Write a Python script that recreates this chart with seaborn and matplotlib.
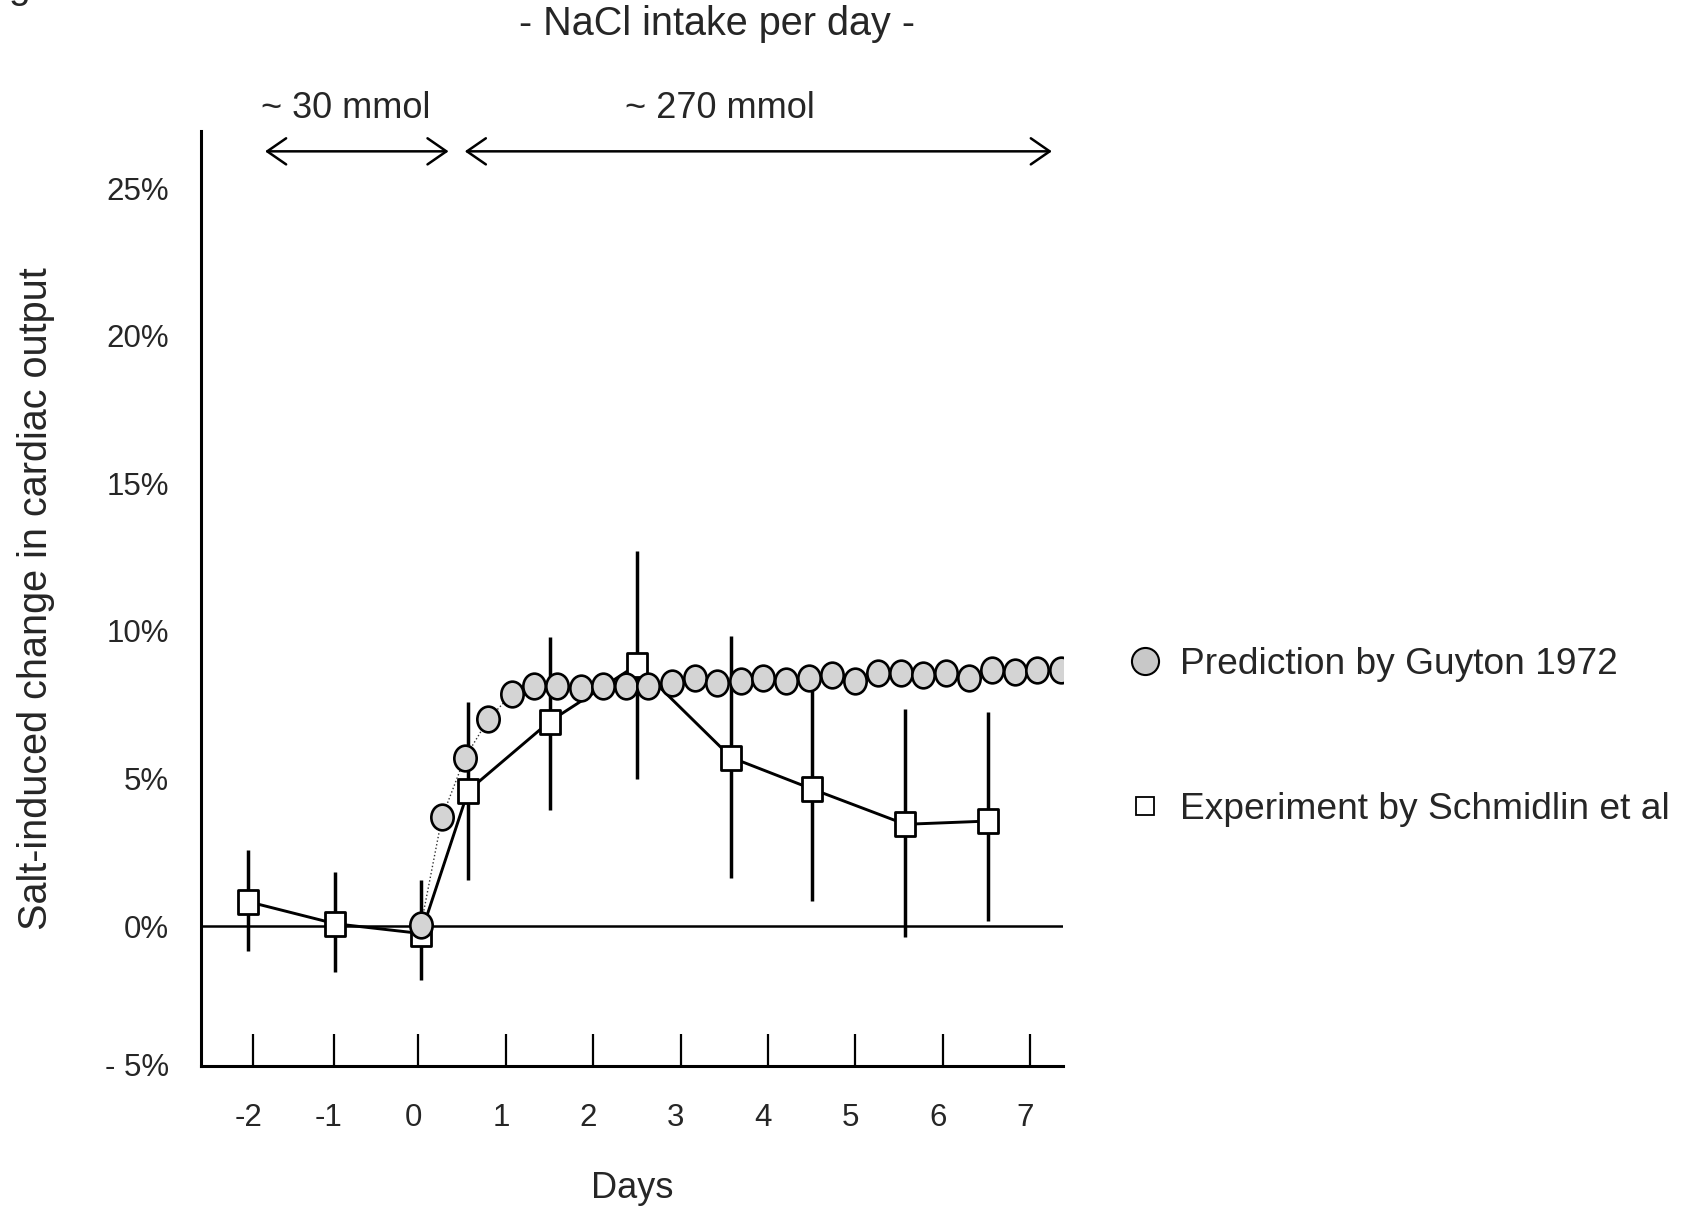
import matplotlib
matplotlib.use("Agg")
import matplotlib.pyplot as plt
from matplotlib.path import Path
from matplotlib.markers import MarkerStyle
from matplotlib.lines import Line2D
from matplotlib.transforms import ScaledTranslation
import seaborn as sns

# Experiment by Schmidlin et al (squares, mean with vertical error bars)
exp_days = [-1.95, -0.95, 0.03, 0.57, 1.50, 2.50, 3.58, 4.50, 5.57, 6.52]
exp_change = [0.83, 0.08, -0.25, 4.59, 6.93, 8.85, 5.71, 4.65, 3.45, 3.56]
exp_err_top = [2.59, 1.83, 1.57, 7.61, 9.78, 12.70, 9.82, 8.50, 7.35, 7.27]
exp_err_bottom = [-0.84, -1.56, -1.82, 1.57, 3.92, 4.99, 1.64, 0.84, -0.36, 0.18]

# Prediction by Guyton 1972 (circles)
pred_days = [0.03, 0.27, 0.53, 0.80, 1.07, 1.32, 1.59, 1.86, 2.11, 2.37,
             2.63, 2.90, 3.16, 3.42, 3.69, 3.94, 4.20, 4.47, 4.73, 4.99,
             5.26, 5.52, 5.77, 6.03, 6.30, 6.56, 6.82, 7.08, 7.35]
pred_change = [0.04, 3.69, 5.69, 7.01, 7.87, 8.14, 8.14, 8.06, 8.14, 8.14,
               8.14, 8.23, 8.42, 8.23, 8.29, 8.42, 8.31, 8.42, 8.51, 8.31,
               8.59, 8.59, 8.51, 8.59, 8.40, 8.68, 8.62, 8.68, 8.69]

# axis ticks
xtick_pos = [-1.89, -0.97, 0, 1, 2, 3, 4, 5, 6, 7]
xtick_labels = ['-2', '-1', '0', '1', '2', '3', '4', '5', '6', '7']
ytick_pos = [-4.7, 0, 5, 10, 15, 20, 25]
ytick_labels = ['- 5%', '0%', '5%', '10%', '15%', '20%', '25%']
ytick_marks = [5, 10, 15, 20, 25]

# salt intake periods
periods = ['~ 30 mmol', '~ 270 mmol']
period_start = [-1.755, 0.53]
period_end = [0.345, 7.247]
period_label_x = [-0.83, 3.45]

sns.set_style("white")
plt.rcParams['font.family'] = ['Liberation Sans', 'DejaVu Sans']

fig = plt.figure(figsize=(16.83, 12.06), dpi=100)
ax = fig.add_axes([0.1193, 0.1163, 0.5121, 0.7751])

# marker shapes: slightly tall ellipse and tall rectangle
circ = Path.unit_circle()
ellipse_marker = MarkerStyle(Path(circ.vertices * [1.0, 1.15], circ.codes))
rect_path = Path([(-1, -1.2), (1, -1.2), (1, 1.2), (-1, 1.2), (-1, -1.2)],
                 [Path.MOVETO, Path.LINETO, Path.LINETO, Path.LINETO, Path.CLOSEPOLY])
rect_marker = MarkerStyle(rect_path, joinstyle='miter')

ax.axhline(0, color='black', lw=1.8, zorder=1)
ax.vlines(exp_days, exp_err_bottom, exp_err_top, color='black', lw=2.5, zorder=2)

sns.lineplot(x=exp_days, y=exp_change, ax=ax, color='black', lw=2.1,
             marker=rect_marker, markersize=17, markerfacecolor='white',
             markeredgecolor='black', markeredgewidth=2.0,
             errorbar=None, sort=False, zorder=3)
sns.lineplot(x=pred_days, y=pred_change, ax=ax, color='#333333', lw=1.0,
             linestyle=':', marker=ellipse_marker, markersize=18.5,
             markerfacecolor='#d4d4d4', markeredgecolor='black',
             markeredgewidth=1.9, errorbar=None, sort=False, zorder=4)

ax.set_xlim(-2.49, 7.37)
ax.set_ylim(-4.73, 26.94)

for side in ['top', 'right']:
    ax.spines[side].set_visible(False)
for side in ['left', 'bottom']:
    ax.spines[side].set_linewidth(2.2)
    ax.spines[side].set_color('black')

ax.set_xticks(xtick_pos)
ax.set_xticklabels(xtick_labels)
ax.tick_params(axis='x', bottom=True, direction='in', length=23, width=1.6,
               color='black', pad=27, labelsize=22.5)
offset = ScaledTranslation(-5 / 100, 0, fig.dpi_scale_trans)
for lbl in ax.get_xticklabels():
    lbl.set_transform(lbl.get_transform() + offset)

ax.set_yticks(ytick_pos)
ax.set_yticklabels(ytick_labels)
ax.tick_params(axis='y', which='major', left=True, length=0, pad=23, labelsize=22.5)
ax.set_yticks(ytick_marks, minor=True)
ax.tick_params(axis='y', which='minor', left=True, direction='in', length=11.5,
               width=1.6, color='#4f5d73')

ax.set_xlabel('Days', fontsize=26, labelpad=27)
ax.set_ylabel('Salt-induced change in cardiac output', fontsize=28.5, labelpad=36)

# intake period arrows
for name, x0, x1, xl in zip(periods, period_start, period_end, period_label_x):
    ax.annotate('', xy=(x1, 26.25), xytext=(x0, 26.25),
                arrowprops=dict(arrowstyle='<->,head_length=0.68,head_width=0.47',
                                lw=1.8, color='black', shrinkA=0, shrinkB=0,
                                mutation_scale=20))
    ax.text(xl, 27.7, name, fontsize=26, ha='center', va='center', clip_on=False)

fig.text(0.426, 0.980, '- NaCl intake per day -', fontsize=28.5,
         ha='center', va='center')
fig.text(0.005, 1.002, 'g', fontsize=28, ha='left', va='baseline')

handles = [Line2D([], [], ls='none', marker='o', ms=19.5, mfc='#c8c8c8',
                  mec='black', mew=1.5),
           Line2D([], [], ls='none', marker='s', ms=13.5, mfc='white',
                  mec='black', mew=1.3)]
ax.legend(handles, ['Prediction by Guyton 1972', 'Experiment by Schmidlin et al'],
          loc='center left', bbox_to_anchor=(1126.6 / 1683, 0.389),
          bbox_transform=fig.transFigure, frameon=False, fontsize=26.7,
          handlelength=1.0, handletextpad=0.45, labelspacing=2.97,
          borderpad=0, borderaxespad=0)

fig.savefig('out.png', dpi=100)
